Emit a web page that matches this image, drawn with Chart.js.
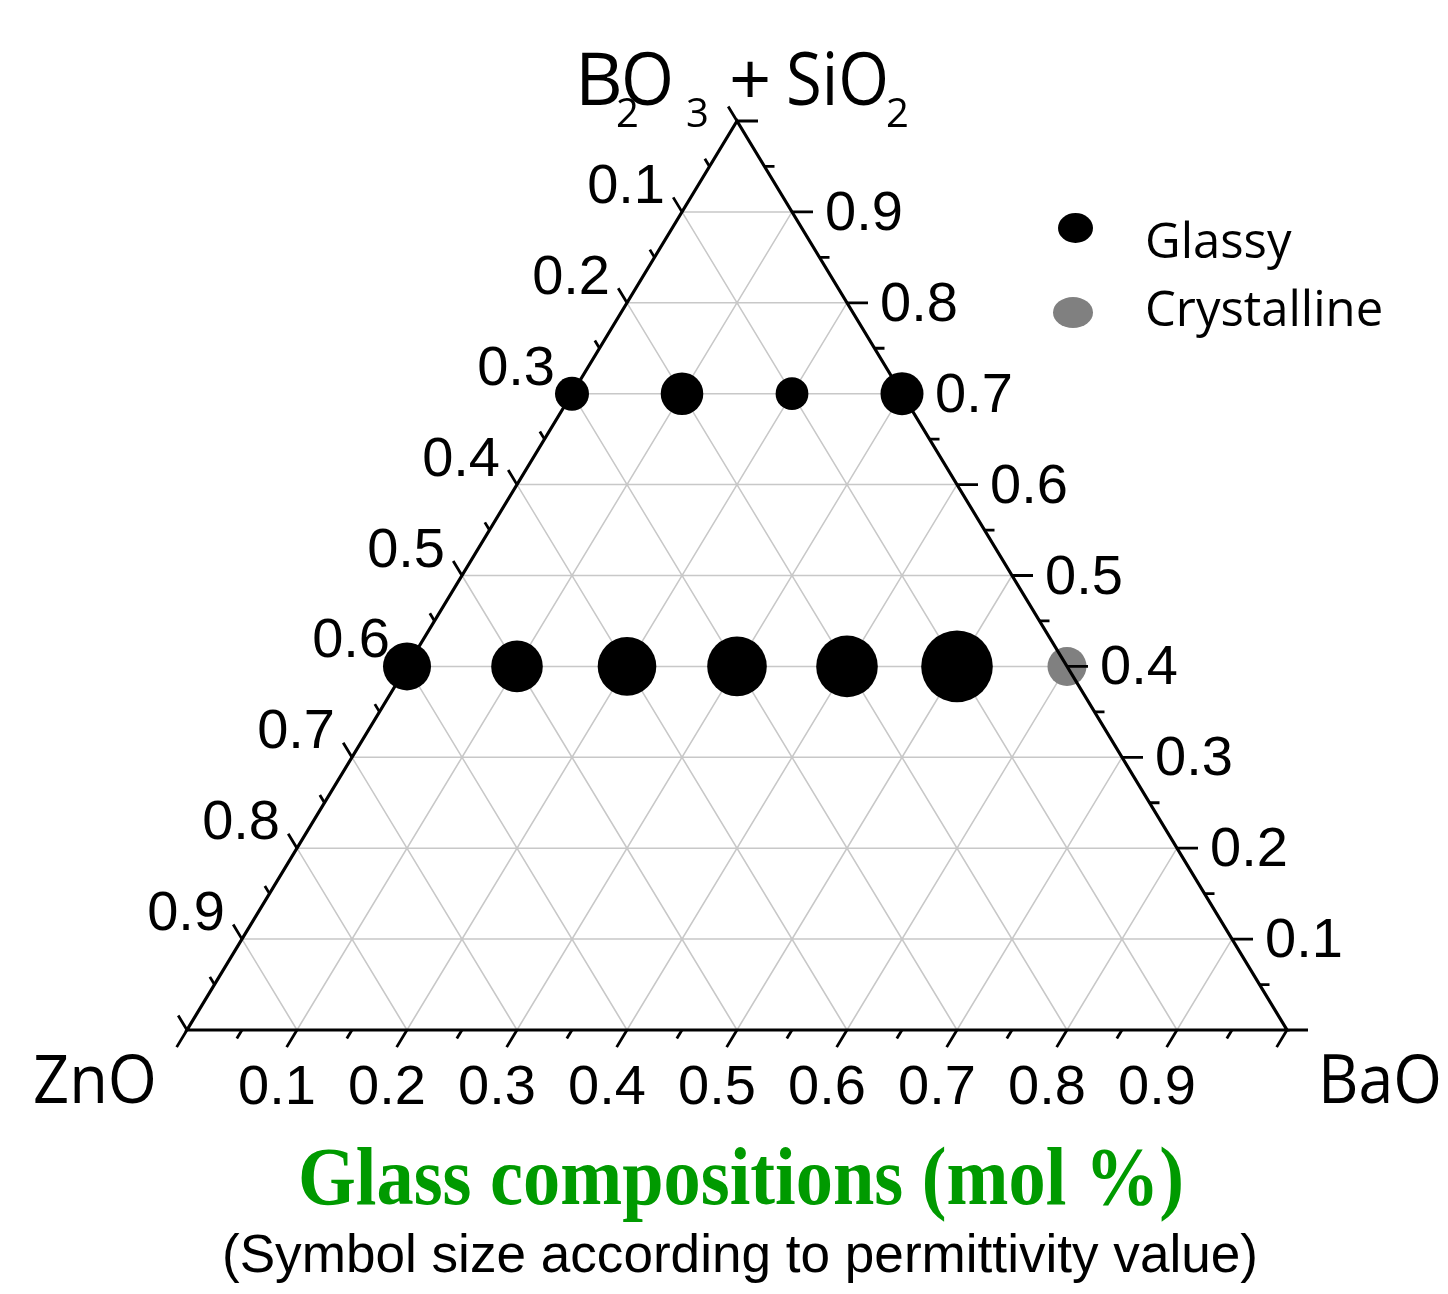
<!DOCTYPE html>
<html>
<head>
<meta charset="utf-8">
<title>Glass compositions (mol %)</title>
<script src="https://cdn.jsdelivr.net/npm/chart.js@4.4.1/dist/chart.umd.min.js"></script>
<style>
  html, body { margin: 0; padding: 0; background: #ffffff; }
  canvas { display: block; }
</style>
</head>
<body>
<canvas id="ternary" width="1448" height="1294"></canvas>
<script>
// Compositions (mole fractions) of the ZnO–BaO–(B2O3 + SiO2) glasses
const glassyFormer = [0.7, 0.7, 0.7, 0.7, 0.4, 0.4, 0.4, 0.4, 0.4, 0.4]; // B2O3 + SiO2
const glassyBaO    = [0.0, 0.1, 0.2, 0.3, 0.0, 0.1, 0.2, 0.3, 0.4, 0.5];
const glassyZnO    = [0.3, 0.2, 0.1, 0.0, 0.6, 0.5, 0.4, 0.3, 0.2, 0.1];
// symbol radius, scaled with the measured permittivity
const glassySymbol = [17, 21.3, 16.4, 21.5, 24, 25.8, 29.3, 29.8, 30.8, 35.8];

const crystFormer = [0.4];
const crystBaO    = [0.6];
const crystZnO    = [0.0];
const crystSymbol = [19.5];

// axis tick labels
const tickLabels = ['0.1', '0.2', '0.3', '0.4', '0.5', '0.6', '0.7', '0.8', '0.9'];

// ternary -> cartesian: x = BaO + former/2, y = former
function toXY(former, bao, r) {
  return { x: bao + former / 2, y: former, r: r };
}
const glassyPts = glassyFormer.map((s, i) => toXY(s, glassyBaO[i], glassySymbol[i]));
const crystPts = crystFormer.map((s, i) => toXY(s, crystBaO[i], crystSymbol[i]));

const SANS = 'Arial, "Liberation Sans", sans-serif';
const HUMAN = '"Open Sans", "Noto Sans", sans-serif';

const ternaryFrame = {
  id: 'ternaryFrame',
  beforeDatasetsDraw(chart) {
    const { ctx, scales } = chart;
    const P = (s, b) => [scales.x.getPixelForValue(b + s / 2), scales.y.getPixelForValue(s)];
    ctx.save();
    ctx.strokeStyle = '#c8c8c8';
    ctx.lineWidth = 1.5;
    ctx.beginPath();
    for (let k = 1; k <= 9; k++) {
      const v = k / 10;
      let a, b;
      // constant B2O3 + SiO2
      a = P(v, 0); b = P(v, 1 - v);
      ctx.moveTo(a[0], a[1]); ctx.lineTo(b[0], b[1]);
      // constant BaO
      a = P(0, v); b = P(1 - v, v);
      ctx.moveTo(a[0], a[1]); ctx.lineTo(b[0], b[1]);
      // constant ZnO
      a = P(0, 1 - v); b = P(1 - v, 0);
      ctx.moveTo(a[0], a[1]); ctx.lineTo(b[0], b[1]);
    }
    ctx.stroke();
    ctx.restore();
  },
  afterDatasetsDraw(chart) {
    const { ctx, scales } = chart;
    const P = (s, b) => [scales.x.getPixelForValue(b + s / 2), scales.y.getPixelForValue(s)];
    const top = P(1, 0), left = P(0, 0), right = P(0, 1);
    ctx.save();

    // triangle frame
    ctx.strokeStyle = '#000';
    ctx.lineWidth = 3.2;
    ctx.lineJoin = 'miter';
    ctx.beginPath();
    ctx.moveTo(top[0], top[1]);
    ctx.lineTo(left[0], left[1]);
    ctx.lineTo(right[0], right[1]);
    ctx.closePath();
    ctx.stroke();

    // tick directions
    const norm = (dx, dy) => { const l = Math.hypot(dx, dy); return [dx / l, dy / l]; };
    const dBottom = norm(left[0] - top[0], left[1] - top[1]);   // down-left
    const dLeft = norm(top[0] - right[0], top[1] - right[1]);   // up-left
    ctx.lineWidth = 2.8;
    ctx.beginPath();
    for (let i = 0; i <= 20; i++) {
      const v = i / 20;
      const major = i % 2 === 0;
      let p, len;
      // bottom axis (BaO)
      p = P(0, v); len = major ? 20 : 10;
      ctx.moveTo(p[0], p[1]); ctx.lineTo(p[0] + dBottom[0] * len, p[1] + dBottom[1] * len);
      // right axis (B2O3 + SiO2)
      p = P(v, 1 - v); len = major ? 21 : 10;
      ctx.moveTo(p[0], p[1]); ctx.lineTo(p[0] + len, p[1]);
      // left axis (ZnO)
      p = P(v, 0); len = major ? 17 : 9;
      ctx.moveTo(p[0], p[1]); ctx.lineTo(p[0] + dLeft[0] * len, p[1] + dLeft[1] * len);
    }
    ctx.stroke();

    // tick labels
    ctx.fillStyle = '#000';
    ctx.font = '56px ' + SANS;
    ctx.textBaseline = 'alphabetic';
    tickLabels.forEach((t, k) => {
      const v = (k + 1) / 10;
      let p;
      // BaO
      p = P(0, v);
      ctx.textAlign = 'center';
      ctx.fillText(t, p[0] - 20, p[1] + 74);
      // B2O3 + SiO2
      p = P(v, 1 - v);
      ctx.textAlign = 'left';
      ctx.fillText(t, p[0] + 33, p[1] + 18);
      // ZnO
      p = P(1 - v, 0);
      ctx.textAlign = 'right';
      ctx.fillText(t, p[0] - 17, p[1] - 9);
    });

    // corner labels
    ctx.font = '67px ' + HUMAN;
    ctx.textAlign = 'left';
    ctx.fillText('ZnO', 33, 1103, 124);
    ctx.fillText('BaO', 1318, 1103, 124);

    ctx.font = '74px ' + HUMAN;
    ctx.fillText('B', 575, 105);
    ctx.fillText('O', 621, 105, 53);
    ctx.fillText('+', 729, 105);
    ctx.fillText('SiO', 786, 105, 103);
    ctx.font = '40px ' + HUMAN;
    ctx.fillText('2', 616, 127);
    ctx.fillText('3', 686, 127);
    ctx.fillText('2', 886, 127);

    // legend
    const legend = [
      { label: chart.data.datasets[0].label, color: '#000000', cx: 1075.5, cy: 228, rx: 17.5, ry: 15, ty: 258 },
      { label: chart.data.datasets[1].label, color: '#808080', cx: 1073, cy: 312.5, rx: 20, ry: 15.5, ty: 326 }
    ];
    ctx.font = '49px ' + HUMAN;
    legend.forEach(item => {
      ctx.fillStyle = item.color;
      ctx.beginPath();
      ctx.ellipse(item.cx, item.cy, item.rx, item.ry, 0, 0, Math.PI * 2);
      ctx.fill();
      ctx.fillStyle = '#000';
      ctx.fillText(item.label, 1145, item.ty);
    });

    // title and note
    ctx.textAlign = 'center';
    ctx.fillStyle = '#009a00';
    ctx.font = 'bold 82px "Liberation Serif", "Times New Roman", serif';
    ctx.fillText('Glass compositions (mol %)', 741, 1204, 886);
    ctx.fillStyle = '#000';
    ctx.font = '54px ' + SANS;
    ctx.fillText('(Symbol size according to permittivity value)', 740, 1272, 1036);

    ctx.restore();
  }
};

new Chart(document.getElementById('ternary'), {
  type: 'bubble',
  data: {
    datasets: [
      { label: 'Glassy', data: glassyPts, backgroundColor: '#000000', borderWidth: 0, clip: false },
      { label: 'Crystalline', data: crystPts, backgroundColor: '#808080', borderWidth: 0, clip: false }
    ]
  },
  options: {
    responsive: false,
    animation: false,
    events: [],
    layout: { padding: { left: 187, right: 161, top: 121, bottom: 264 } },
    scales: {
      x: { type: 'linear', min: 0, max: 1, display: false },
      y: { type: 'linear', min: 0, max: 1, display: false }
    },
    plugins: { legend: { display: false }, tooltip: { enabled: false } }
  },
  plugins: [ternaryFrame]
});
</script>
</body>
</html>
